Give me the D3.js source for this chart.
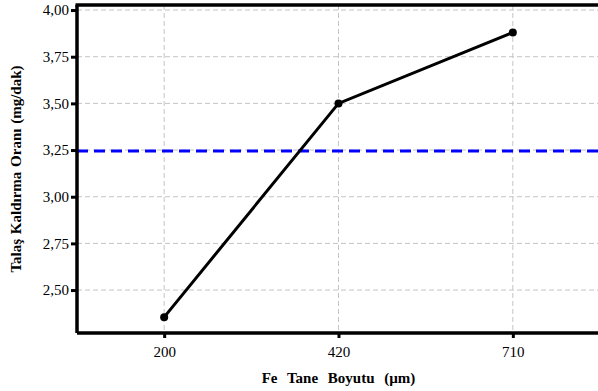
<!DOCTYPE html>
<html>
<head>
<meta charset="utf-8">
<script src="https://cdn.jsdelivr.net/npm/d3@7"></script>
<style>
  body { margin: 0; background: #fff; }
  svg { display: block; }
  svg text { font-family: 'Liberation Serif', 'Times New Roman', serif !important; fill: #000; }
</style>
</head>
<body>
<div id="chart"></div>
<script>
// data
const sizes = ["200", "420", "710"];
const rates = [2.355, 3.50, 3.88];
const meanRate = 3.245;
const yTicks = [2.50, 2.75, 3.00, 3.25, 3.50, 3.75, 4.00];

const W = 598, H = 391;
const margin = { top: 5, right: -2, bottom: 58, left: 77 };
const width = W - margin.left - margin.right,
  height = H - margin.top - margin.bottom;

const svg = d3
  .select("#chart")
  .append("svg")
  .attr("width", W)
  .attr("height", H)
  .append("g")
  .attr("transform", `translate(${margin.left}, ${margin.top})`);

const x = d3.scalePoint().domain(sizes).range([0, width]).padding(0.5);
const y = d3.scaleLinear().domain([2.27, 4.027]).range([height, 0]);

const comma = (d) => d3.format(".2f")(d).replace(".", ",");

// grid
svg
  .append("g")
  .selectAll("line.h")
  .data(yTicks)
  .join("line")
  .attr("x1", 0)
  .attr("x2", width)
  .attr("y1", (d) => y(d))
  .attr("y2", (d) => y(d))
  .attr("stroke", "#c4c4c4")
  .attr("stroke-width", 1)
  .attr("stroke-dasharray", "5,3");

svg
  .append("g")
  .selectAll("line.v")
  .data(sizes)
  .join("line")
  .attr("x1", (d) => x(d))
  .attr("x2", (d) => x(d))
  .attr("y1", 0)
  .attr("y2", height)
  .attr("stroke", "#c4c4c4")
  .attr("stroke-width", 1)
  .attr("stroke-dasharray", "5,3");

// mean line
svg
  .append("line")
  .attr("x1", 0)
  .attr("x2", width)
  .attr("y1", y(meanRate))
  .attr("y2", y(meanRate))
  .attr("stroke", "#0000ff")
  .attr("stroke-width", 3)
  .attr("stroke-dasharray", "11,6");

// data line
const line = d3
  .line()
  .x((d, i) => x(sizes[i]))
  .y((d) => y(d));

svg
  .append("path")
  .datum(rates)
  .attr("fill", "none")
  .attr("stroke", "#000")
  .attr("stroke-width", 3)
  .attr("d", line);

svg
  .selectAll("circle")
  .data(rates)
  .join("circle")
  .attr("cx", (d, i) => x(sizes[i]))
  .attr("cy", (d) => y(d))
  .attr("r", 4)
  .attr("fill", "#000");

// axes
const yAxis = svg
  .append("g")
  .call(d3.axisLeft(y).tickValues(yTicks).tickFormat(comma).tickSize(6).tickPadding(2));
const xAxis = svg
  .append("g")
  .attr("transform", `translate(0, ${height})`)
  .call(d3.axisBottom(x).tickSize(5).tickPadding(8));

[yAxis, xAxis].forEach((g) => {
  g.attr("font-size", 15);
  g.select(".domain").attr("stroke-width", 3.5);
  g.selectAll(".tick line").attr("stroke-width", 3);
});
xAxis.select(".domain").attr("d", `M0,0H${width}`);
yAxis.select(".domain").attr("d", `M0,${height}V0`);

// top border
svg
  .append("line")
  .attr("x1", -1.5)
  .attr("x2", width)
  .attr("y1", 0)
  .attr("y2", 0)
  .attr("stroke", "#000")
  .attr("stroke-width", 3.5);

// labels
svg
  .append("text")
  .attr("x", x("420"))
  .attr("y", height + 50)
  .attr("text-anchor", "middle")
  .attr("font-weight", "bold")
  .attr("font-size", 15)
  .attr("word-spacing", 6)
  .text("Fe Tane Boyutu (µm)");

svg
  .append("text")
  .attr("transform", `translate(-56, ${height / 2}) rotate(-90)`)
  .attr("text-anchor", "middle")
  .attr("font-weight", "bold")
  .attr("font-size", 15)
  .attr("word-spacing", 1)
  .text("Talaş Kaldırma Oranı (mg/dak)");
</script>
</body>
</html>
